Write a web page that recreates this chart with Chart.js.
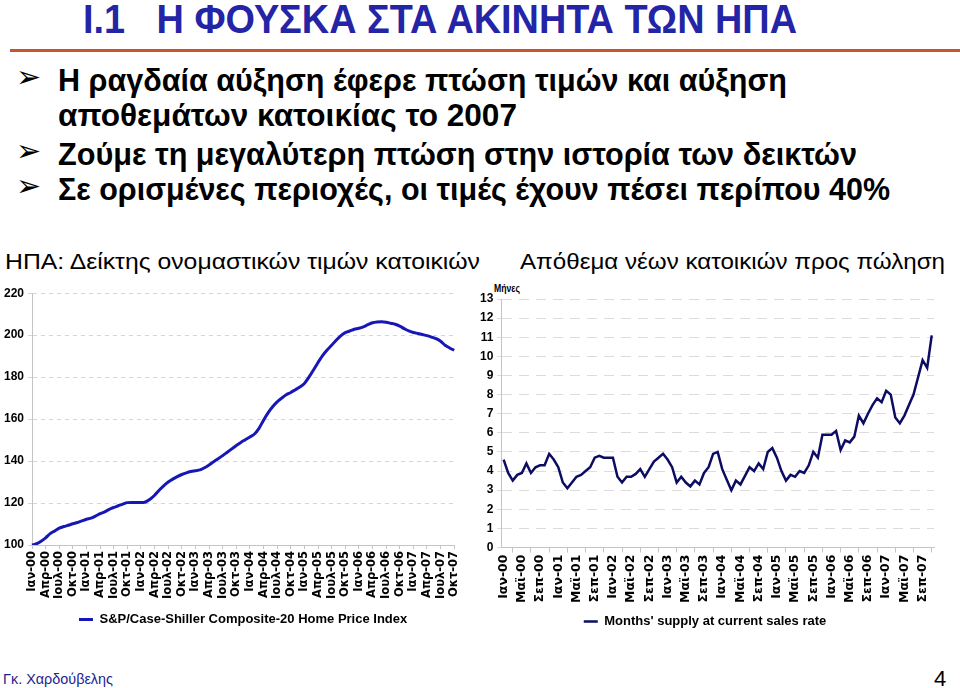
<!DOCTYPE html>
<html>
<head>
<meta charset="utf-8">
<script src="https://cdn.jsdelivr.net/npm/chart.js@4"></script>
<style>
  body { margin: 0; width: 960px; height: 688px; background: #fff; overflow: hidden; position: relative;
         font-family: 'Liberation Sans Narrow', 'Arial Narrow', 'Liberation Sans', Arial, sans-serif; }
  .t { position: absolute; white-space: nowrap; display: inline-block; transform-origin: 0 0; line-height: 1; }
  .arrow { position: absolute; left: 16px; font-size: 30px; line-height: 1; font-family: 'DejaVu Sans', sans-serif; }
  .rule { position: absolute; left: 10px; top: 49px; width: 950px; height: 3px; background: #c8552d; }
  canvas { position: absolute; }
</style>
</head>
<body>
<div class="t" data-w="714" style="left:83px;top:-1px;font-size:41px;font-weight:bold;color:#2424a6;">Ι.1&nbsp;&nbsp; Η ΦΟΥΣΚΑ ΣΤΑ ΑΚΙΝΗΤΑ ΤΩΝ ΗΠΑ</div>
<div class="rule"></div>

<div class="arrow" style="top:62px;">&#10146;</div>
<div class="t" data-w="729" style="left:58px;top:64px;font-size:32px;font-weight:bold;">Η ραγδαία αύξηση έφερε πτώση τιμών και αύξηση</div>
<div class="t" data-w="459" style="left:58px;top:99px;font-size:32px;font-weight:bold;">αποθεμάτων κατοικίας το 2007</div>
<div class="arrow" style="top:136px;">&#10146;</div>
<div class="t" data-w="799" style="left:58px;top:138px;font-size:32px;font-weight:bold;">Ζούμε τη μεγαλύτερη πτώση στην ιστορία των δεικτών</div>
<div class="arrow" style="top:171px;">&#10146;</div>
<div class="t" data-w="832" style="left:58px;top:173px;font-size:32px;font-weight:bold;">Σε ορισμένες περιοχές, οι τιμές έχουν πέσει περίπου 40%</div>

<div class="t" data-w="475" style="left:5px;top:251px;font-size:22px;font-family:'Liberation Sans',Arial,sans-serif;">ΗΠΑ: Δείκτης ονομαστικών τιμών κατοικιών</div>
<div class="t" data-w="425" style="left:520px;top:251px;font-size:22px;font-family:'Liberation Sans',Arial,sans-serif;">Απόθεμα νέων κατοικιών προς πώληση</div>
<div class="t" data-w="26" style="left:494px;top:283px;font-size:11px;font-weight:bold;">Μήνες</div>

<canvas id="priceChart" style="left:0;top:282px;" width="470" height="356"></canvas>
<canvas id="supplyChart" style="left:476px;top:282px;" width="484" height="356"></canvas>

<div class="t" data-w="110" style="left:3px;top:672px;font-size:14px;color:#23238c;">Γκ. Χαρδούβελης</div>
<div class="t" style="left:934px;top:668px;font-size:22px;">4</div>

<script>
// month labels (Greek abbreviations)
const monthNames = ['Ιαν', 'Φεβ', 'Μαρ', 'Απρ', 'Μαϊ', 'Ιουν', 'Ιουλ', 'Αυγ', 'Σεπ', 'Οκτ', 'Νοε', 'Δεκ'];
const years = ['00', '01', '02', '03', '04', '05', '06', '07'];

// S&P/Case-Shiller Composite-20, Jan 2000 - Oct 2007
const priceIndex = [
    100.0, 100.6, 101.8, 103.4, 105.4, 106.7, 108.0, 108.8, 109.4, 110.1, 110.7, 111.5,
    112.3, 112.8, 113.8, 114.9, 115.8, 117.0, 117.9, 118.7, 119.5, 120.2, 120.3, 120.3,
    120.2, 120.5, 121.8, 123.7, 126.1, 128.2, 130.0, 131.4, 132.6, 133.6, 134.4, 135.0,
    135.4, 135.8, 136.8, 138.1, 139.7, 141.1, 142.6, 144.2, 145.8, 147.4, 148.9, 150.2,
    151.5, 152.9, 155.6, 159.5, 163.0, 165.9, 168.2, 170.0, 171.6, 172.7, 174.0, 175.3,
    177.0, 180.0, 183.4, 187.0, 190.3, 192.9, 195.2, 197.6, 199.7, 201.2, 202.0, 202.8,
    203.3, 204.0, 205.0, 205.9, 206.3, 206.4, 206.2, 205.7, 205.2, 204.3, 203.1, 202.0,
    201.3, 200.8, 200.3, 199.8, 199.1, 198.3, 197.1, 195.2, 193.9, 192.8
];

// Months' supply of new homes, Jan 2000 - Nov 2007
const monthsSupply = [
    4.6, 3.9, 3.5, 3.8, 3.9, 4.4, 3.9, 4.2, 4.3, 4.3, 4.9, 4.6,
    4.2, 3.4, 3.1, 3.4, 3.7, 3.8, 4.0, 4.2, 4.7, 4.8, 4.7, 4.7,
    4.7, 3.7, 3.4, 3.7, 3.7, 3.85, 4.1, 3.7, 4.1, 4.5, 4.7, 4.9,
    4.6, 4.2, 3.4, 3.7, 3.4, 3.2, 3.5, 3.3, 3.9, 4.2, 4.9, 5.0,
    4.1, 3.55, 3.0, 3.5, 3.3, 3.75, 4.2, 4.0, 4.4, 4.1, 5.0, 5.2,
    4.7, 4.0, 3.5, 3.8, 3.7, 4.0, 3.9, 4.3, 5.0, 4.7, 5.9, 5.9,
    5.9, 6.1, 5.1, 5.6, 5.5, 5.8, 6.9, 6.5, 7.0, 7.45, 7.8, 7.6,
    8.2, 8.0, 6.8, 6.5, 6.9, 7.45, 8.0, 8.9, 9.8, 9.4, 11.1
];

function monthLabels(count) {
    const out = [];
    for (let i = 0; i < count; i++) {
        out.push(monthNames[i % 12] + '-' + years[Math.floor(i / 12)]);
    }
    return out;
}
const priceLabels = monthLabels(priceIndex.length);
const supplyLabels = monthLabels(monthsSupply.length);

const FONT = "'Liberation Sans Narrow', 'Arial Narrow', 'Liberation Sans', Arial, sans-serif";
const WIDE = "'DejaVu Sans', sans-serif";   // spaced-out look of the slide's date labels

// squeeze html text to the widths seen on the slide
document.querySelectorAll('[data-w]').forEach(el => {
    const w = el.getBoundingClientRect().width;
    el.style.transform = 'scaleX(' + (parseFloat(el.dataset.w) / w) + ')';
});

// Price index chart
new Chart(document.getElementById('priceChart'), {
    type: 'line',
    data: {
        labels: priceLabels,
        datasets: [{
            label: 'S&P/Case-Shiller Composite-20 Home Price Index',
            data: priceIndex,
            borderColor: '#1717b5',
            backgroundColor: '#1717b5',
            borderWidth: 3,
            pointRadius: 0,
            tension: 0.4,
            cubicInterpolationMode: 'monotone'
        }]
    },
    options: {
        responsive: false,
        animation: false,
        layout: { padding: { left: 0, right: 8, top: 4, bottom: 2 } },
        plugins: {
            legend: {
                position: 'bottom',
                fullSize: false,   // centre under the plot, not the canvas
                labels: {
                    usePointStyle: true, pointStyle: 'line', pointStyleWidth: 14,
                    color: '#000', padding: 12,
                    font: { family: FONT, size: 13, weight: 'bold' }
                }
            },
            tooltip: { enabled: false }
        },
        scales: {
            x: {
                offset: false,
                border: { color: '#c4c4c4' },
                grid: { drawOnChartArea: false, tickLength: 4, color: '#c4c4c4' },
                ticks: {
                    autoSkip: false, maxRotation: 90, minRotation: 90, padding: 2,
                    color: '#000', font: { family: WIDE, size: 11.5, weight: 'bold' },
                    callback: (v, i) => (i % 3 === 0 ? priceLabels[i] : null)
                }
            },
            y: {
                min: 100, max: 220,
                border: { color: '#c4c4c4', dash: [4, 4] },
                grid: { color: '#d6d6d6', tickLength: 4 },
                ticks: { stepSize: 20, color: '#000', padding: 4, font: { family: FONT, size: 12, weight: 'bold' } }
            }
        }
    }
});

// Months' supply chart
new Chart(document.getElementById('supplyChart'), {
    type: 'line',
    data: {
        labels: supplyLabels,
        datasets: [{
            label: "Months' supply at current sales rate",
            data: monthsSupply,
            borderColor: '#0c0c62',
            backgroundColor: '#0c0c62',
            borderWidth: 2.5,
            pointRadius: 0,
            tension: 0
        }]
    },
    options: {
        responsive: false,
        animation: false,
        layout: { padding: { left: 0, right: 26, top: 17, bottom: 0 } },
        plugins: {
            legend: {
                position: 'bottom',
                labels: {
                    usePointStyle: true, pointStyle: 'line', pointStyleWidth: 14,
                    color: '#000', padding: 10,
                    font: { family: FONT, size: 13, weight: 'bold' }
                }
            },
            tooltip: { enabled: false }
        },
        scales: {
            x: {
                offset: true,
                border: { color: '#c4c4c4' },
                grid: { offset: true, drawOnChartArea: false, tickLength: 5, color: '#c4c4c4' },
                ticks: {
                    autoSkip: false, maxRotation: 90, minRotation: 90, padding: 2,
                    color: '#000', font: { family: WIDE, size: 12.5, weight: 'bold' },
                    callback: (v, i) => (i % 4 === 0 ? supplyLabels[i] : null)
                }
            },
            y: {
                min: 0, max: 13,
                border: { color: '#c4c4c4', dash: [10, 7] },
                grid: { color: '#dcdcdc', tickLength: 4 },
                ticks: { stepSize: 1, color: '#000', padding: 4, font: { family: FONT, size: 12, weight: 'bold' } }
            }
        }
    }
});
</script>
</body>
</html>
